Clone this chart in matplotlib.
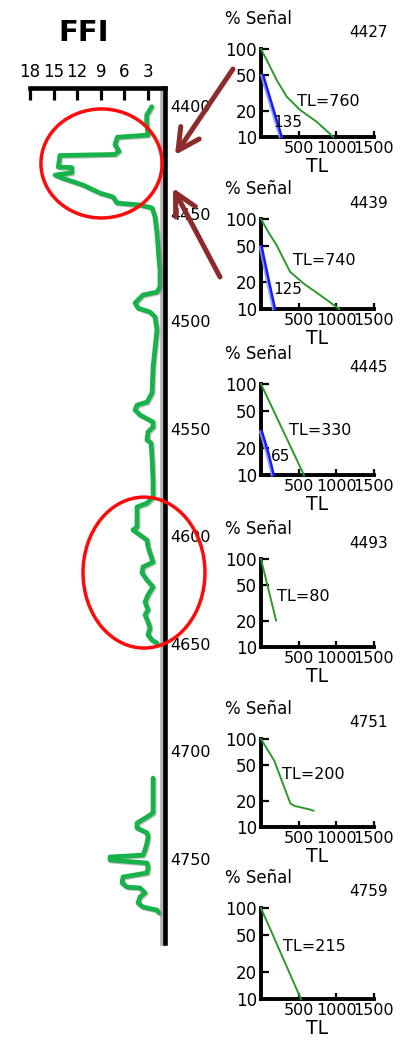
import numpy as np
import matplotlib
matplotlib.use("Agg")
import matplotlib.pyplot as plt
from matplotlib.patches import Ellipse, FancyArrowPatch
from matplotlib.ticker import NullLocator
import matplotlib.patheffects as pe
import matplotlib.transforms as mtransforms

plt.rcParams["font.family"] = ["DejaVu Sans"]

W, H, DPI = 403, 1040, 100

# ---------------- FFI log (value vs depth) ----------------
ffi_upper = [2.53, 3.17, 3.17, 3.00, 6.90, 7.20, 6.70, 7.20, 14.2, 14.4, 12.7, 12.7,
             14.8, 13.9, 11.3, 9.10, 7.45, 6.94, 4.02, 2.49, 2.11, 1.86, 1.60, 1.48,
             1.48, 1.86, 3.64, 4.65, 4.27, 2.75, 2.11, 1.86, 2.36, 2.49, 3.13, 4.40,
             4.65, 4.02, 2.36, 2.36, 3.00, 3.13, 2.62, 2.49, 2.36, 2.36, 3.13, 4.40,
             4.40, 4.91, 4.02, 3.13, 3.00, 2.75, 2.36, 3.64, 3.76, 3.13, 2.36, 3.00,
             3.38, 3.00, 3.38, 3.00, 2.75, 3.00, 2.49, 1.86]
depth_upper = [4400.3, 4404.2, 4407.9, 4413.5, 4414.5, 4418.0, 4421.0, 4422.5, 4423.0,
               4428.4, 4428.6, 4431.0, 4432.1, 4433.5, 4436.7, 4440.5, 4442.3, 4445.1,
               4446.0, 4447.4, 4451.6, 4459.1, 4471.6, 4476.3, 4484.2, 4486.5, 4487.9,
               4491.6, 4494.0, 4495.8, 4498.1, 4504.2, 4521.4, 4533.5, 4537.7, 4539.1,
               4541.4, 4543.7, 4547.0, 4549.3, 4551.6, 4555.3, 4556.7, 4563.3, 4575.3,
               4581.9, 4584.7, 4586.5, 4595.8, 4597.2, 4599.5, 4601.9, 4605.1, 4607.9,
               4612.1, 4614.4, 4617.2, 4620.5, 4623.7, 4627.4, 4630.7, 4634.4, 4636.7,
               4640.0, 4642.8, 4646.0, 4648.4, 4649.8]
ffi_lower = [2.36, 2.36, 3.13, 4.40, 4.40, 3.13, 3.00, 3.13, 3.38, 3.64, 7.83, 7.83,
             3.13, 3.00, 3.13, 6.18, 6.30, 5.67, 4.02, 3.38, 4.02, 4.27, 3.64, 1.86, 1.60]
depth_lower = [4712.6, 4728.8, 4730.7, 4733.5, 4735.8, 4738.1, 4740.0, 4742.8, 4746.0,
               4748.4, 4749.3, 4750.7, 4752.1, 4754.4, 4756.7, 4758.6, 4761.4, 4763.3,
               4763.7, 4766.0, 4767.9, 4770.7, 4772.6, 4774.0, 4775.3]

ffi_ticks = [18, 15, 12, 9, 6, 3]
depth_ticks = [4400, 4450, 4500, 4550, 4600, 4650, 4700, 4750]

# ---------------- signal decay panels ----------------
panel_depths = ["4427", "4439", "4445", "4493", "4751", "4759"]
panel_tl = ["TL=760", "TL=740", "TL=330", "TL=80", "TL=200", "TL=215"]
green_tl = [[0, 97, 208, 341, 518, 739, 960],
            [0, 100, 208, 385, 562, 783, 1040],
            [0, 570],
            [0, 200],
            [0, 177, 390, 452, 651, 697],
            [0, 530]]
green_sig = [[100, 69, 44.5, 28.7, 20.3, 14.9, 10],
             [100, 71, 51, 26, 19.3, 14.3, 10],
             [100, 10],
             [100, 20],
             [100, 56.5, 18.5, 17.3, 15.8, 15.3],
             [100, 10]]
blue_tl = [[30, 190, 275], [10, 97, 186], [13, 102, 169], None, None, None]
blue_sig = [[50, 17.5, 10], [49, 22, 10], [30, 17, 10], None, None, None]
blue_labels = ["135", "125", "65", None, None, None]

# label anchors (data coordinates of each panel)
tl_label_xy = [(478, 25), (425, 35), (372, 31), (212, 37), (279, 39), (292, 37.7)]
blue_label_xy = [(159, 14.8), (159, 16.3), (133, 15.8), None, None, None]
# panel frames in pixels (top, bottom)
panel_rows = [(49, 137), (219, 309), (384, 475), (559, 647), (739, 827), (908, 999)]

fig = plt.figure(figsize=(W / DPI, H / DPI), dpi=DPI)
px = mtransforms.Affine2D().scale(1 / W, 1 / H) + fig.transFigure


def px_axes(left, top, right, bottom):
    return fig.add_axes([left / W, 1 - bottom / H, (right - left) / W, (bottom - top) / H])


# ---------------- main log track ----------------
ax = px_axes(30, 88, 165, 943)
ax.set_xlim(18, 0.84)
ax.set_ylim(4789.3, 4391.6)
for s in ("left", "bottom"):
    ax.spines[s].set_visible(False)
for s in ("top", "right"):
    ax.spines[s].set_linewidth(3.3)
    ax.spines[s].set_capstyle("projecting")
ax.spines["right"].set_path_effects([pe.SimpleLineShadow(offset=(-2.2, 0), shadow_color="0.5", alpha=0.6),
                                     pe.Normal()])
ax.xaxis.tick_top()
ax.set_xticks(ffi_ticks)
ax.set_xticklabels([str(t) for t in ffi_ticks])
ax.tick_params(axis="x", direction="in", length=8.5, width=2.3, pad=5, labelsize=12)
ax.yaxis.tick_right()
ax.set_yticks(depth_ticks)
ax.set_yticklabels([str(t) for t in depth_ticks])
ax.tick_params(axis="y", length=0, pad=4, labelsize=11.5)

ffi = ffi_upper + [np.nan] + ffi_lower
depth = depth_upper + [np.nan] + depth_lower
ax.plot(ffi, depth, color="#17b24a", lw=3.4, solid_joinstyle="round", solid_capstyle="round",
        path_effects=[pe.SimpleLineShadow(offset=(0.8, -0.8), alpha=0.25), pe.Normal()])

for cx, cy, w, h in [(8.91, 4426.7, 15.4, 50.7), (3.51, 4617.0, 15.5, 70.2)]:
    ax.add_patch(Ellipse((cx, cy), w, h, fill=False, edgecolor="#ff0a0a", lw=2.5,
                         clip_on=False, zorder=5))

fig.text(84 / W, 1 - 33 / H, "FFI", fontsize=21, fontweight="bold", ha="center", va="center")

# ---------------- decay panels ----------------
for i, (top, bottom) in enumerate(panel_rows):
    pa = px_axes(261, top, 374, bottom)
    pa.set_yscale("log")
    pa.set_xlim(0, 1500)
    pa.set_ylim(10, 100)
    pa.set_yticks([10, 20, 50, 100])
    pa.set_yticklabels(["10", "20", "50", "100"])
    pa.yaxis.set_minor_locator(NullLocator())
    pa.set_xticks([500, 1000, 1500])
    pa.set_xticklabels(["500", "1000", "1500"])
    for s in ("top", "right"):
        pa.spines[s].set_visible(False)
    for s in ("left", "bottom"):
        pa.spines[s].set_linewidth(2.8)
        pa.spines[s].set_capstyle("projecting")
    pa.tick_params(axis="y", direction="in", length=6, width=1.6, pad=3, labelsize=12)
    pa.tick_params(axis="x", direction="in", length=4.5, width=1.6, pad=3, labelsize=11.5)
    pa.set_xlabel("TL", fontsize=13.5, labelpad=0.5)
    pa.patch.set_alpha(0)

    pa.plot(green_tl[i], green_sig[i], color="#2a9a2a", lw=1.4, clip_on=False, zorder=3,
            solid_joinstyle="round")
    if blue_tl[i] is not None:
        pa.plot(blue_tl[i], blue_sig[i], color="#1a1aff", lw=1.8, clip_on=False, zorder=3,
                path_effects=[pe.SimpleLineShadow(offset=(-1.3, 0), shadow_color="#8a9cff", alpha=0.9),
                              pe.Normal()])
        pa.text(*blue_label_xy[i], blue_labels[i], fontsize=11, ha="left", va="center")
    pa.text(*tl_label_xy[i], panel_tl[i], fontsize=11.5, ha="left", va="center")

    h = bottom - top
    pa.text(-36 / 113, 1 + 30 / h, "% Señal", transform=pa.transAxes, fontsize=12,
            ha="left", va="center")
    pa.text(1.12, 1 + 16 / h, panel_depths[i], transform=pa.transAxes, fontsize=11,
            ha="right", va="center")

# ---------------- arrows pointing at the anomaly ----------------
for tail, tip in [((233, H - 69), (175, H - 155)), ((220, H - 277), (173, H - 188))]:
    arr = FancyArrowPatch(tail, tip, transform=px,
                          arrowstyle="->,head_length=0.77,head_width=0.4", mutation_scale=20,
                          lw=3.6, color="#8c2b2b", shrinkA=0, shrinkB=0, zorder=10)
    fig.add_artist(arr)

fig.savefig("out.png", dpi=DPI)
